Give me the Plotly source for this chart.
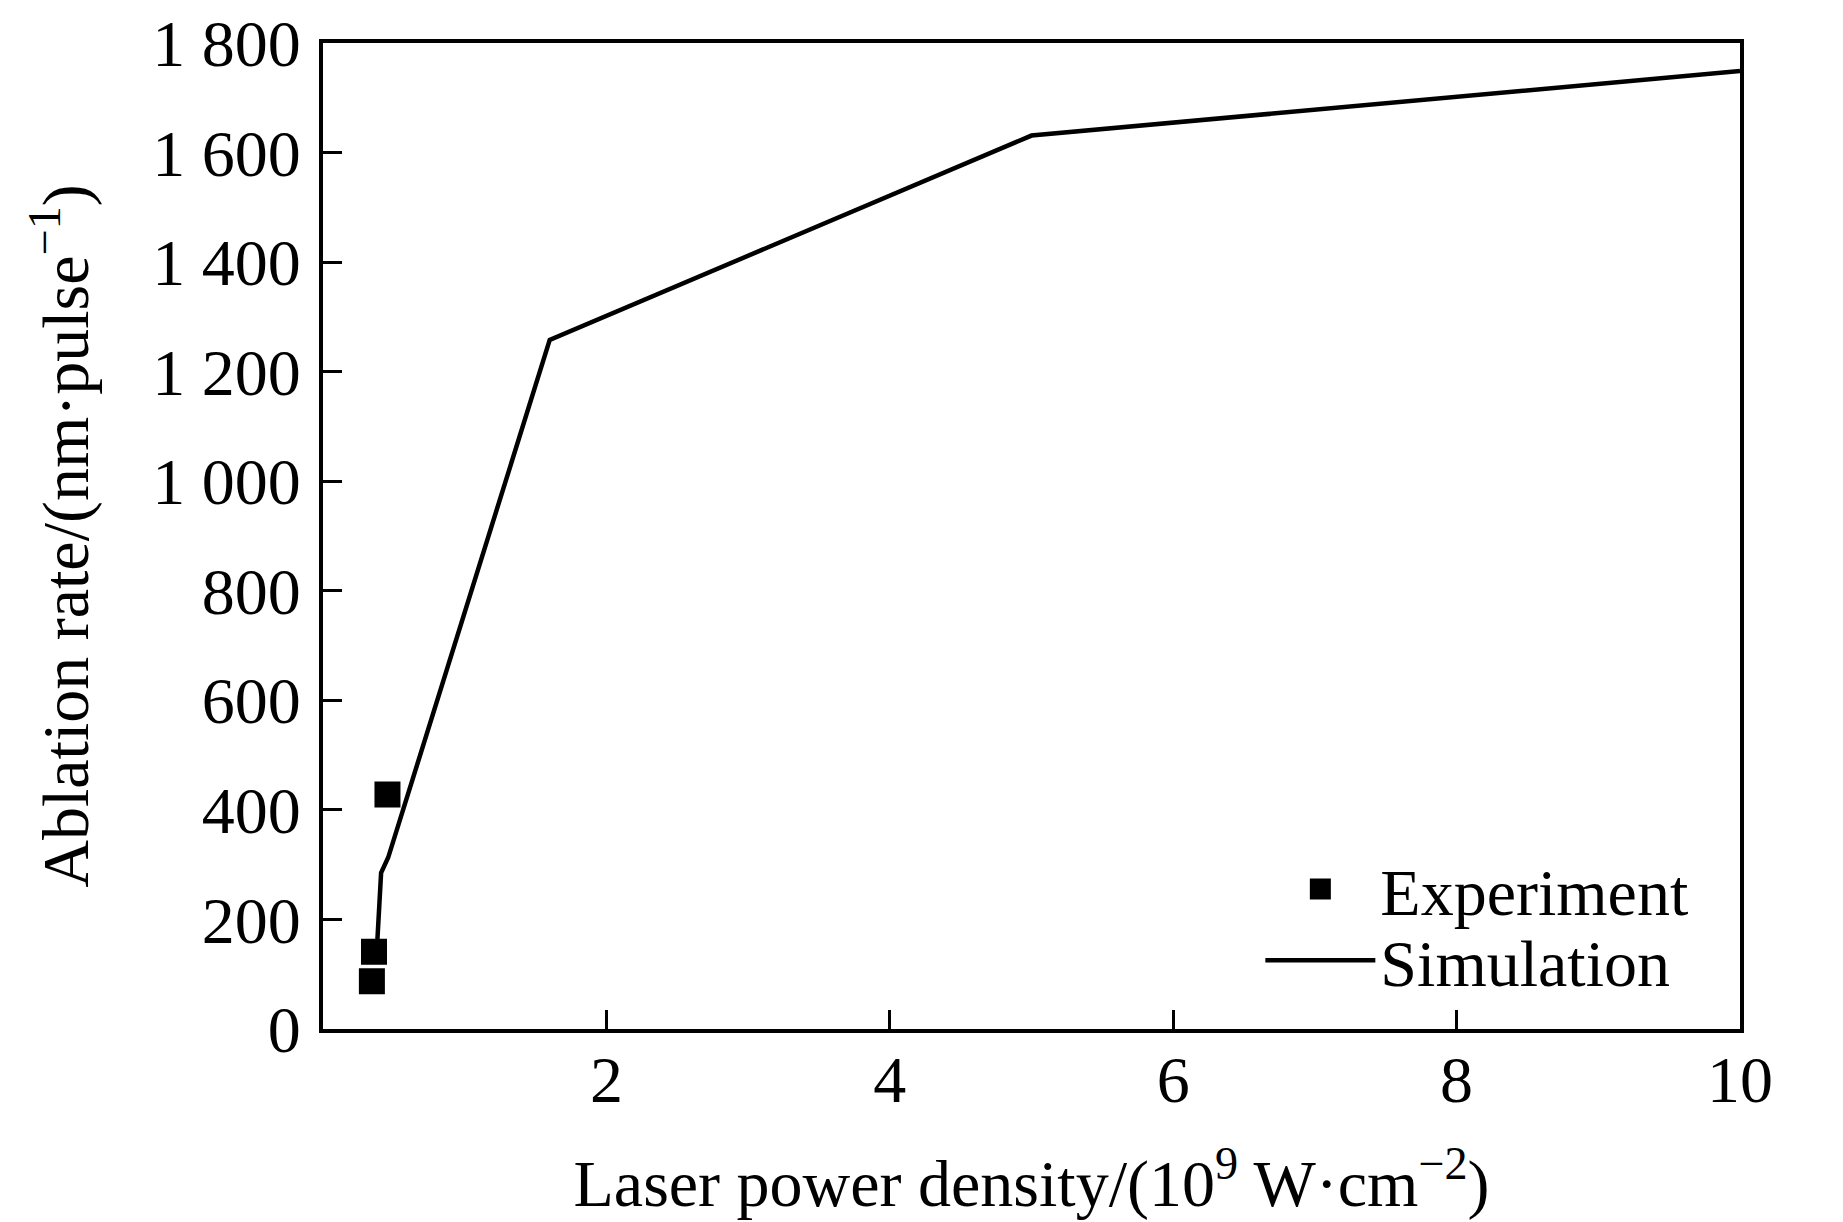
import plotly.graph_objects as go

# Experimental data
exp_x = [0.345, 0.36, 0.455]
exp_y = [87, 141, 428]

# Simulation curve
sim_x = [0.38, 0.41, 0.46, 1.6, 5.0, 10.0]
sim_y = [145, 285, 313, 1258, 1631, 1749]

y_tickvals = [0, 200, 400, 600, 800, 1000, 1200, 1400, 1600, 1800]
y_ticktext = ["0", "200", "400", "600", "800", "1 000", "1 200", "1 400", "1 600", "1 800"]
x_tickvals = [2, 4, 6, 8, 10]
x_ticktext = ["2", "4", "6", "8", "10"]

FONT = "Liberation Serif, Times New Roman, serif"
FS = 66

fig = go.Figure()
fig.add_trace(go.Scatter(
    x=exp_x, y=exp_y, mode="markers", name="Experiment", legend="legend",
    marker=dict(symbol="square", size=21, color="black",
                line=dict(color="black", width=5)),
))
fig.add_trace(go.Scatter(
    x=sim_x, y=sim_y, mode="lines", name="Simulation", legend="legend2",
    line=dict(color="black", width=4.5),
))

axis_common = dict(
    showgrid=False, zeroline=False, showline=True, linecolor="black", linewidth=4,
    mirror=True, ticks="inside", ticklen=19, tickwidth=3, tickcolor="black",
    automargin=False, ticklabeloverflow="allow",
    tickfont=dict(family=FONT, size=FS, color="black"),
)

legend_common = dict(
    xanchor="left", yanchor="middle", bgcolor="rgba(0,0,0,0)",
    font=dict(family=FONT, size=FS, color="black"), itemwidth=110,
)

fig.update_layout(
    width=1843, height=1222,
    margin=dict(l=315, r=111, t=35, b=201),
    paper_bgcolor="white", plot_bgcolor="white",
    font=dict(family=FONT, size=FS, color="black"),
    xaxis=dict(range=[0, 10], tickvals=x_tickvals, ticktext=x_ticktext,
               ticklabelstandoff=-10,
               title=dict(text="Laser power density/(10<sup>9</sup> W·cm<sup>−2</sup>)",
                          font=dict(family=FONT, size=FS, color="black"), standoff=46),
               **axis_common),
    yaxis=dict(range=[0, 1800], tickvals=y_tickvals, ticktext=y_ticktext,
               ticklabelstandoff=5,
               title=dict(text="Ablation rate/(nm·pulse<sup>−1</sup>)",
                          font=dict(family=FONT, size=FS, color="black"), standoff=43),
               **axis_common),
    legend=dict(x=0.6615, y=0.142, **legend_common),
    legend2=dict(x=0.6615, y=0.0695, **legend_common),
    showlegend=True,
)

fig.write_html("out.html")
